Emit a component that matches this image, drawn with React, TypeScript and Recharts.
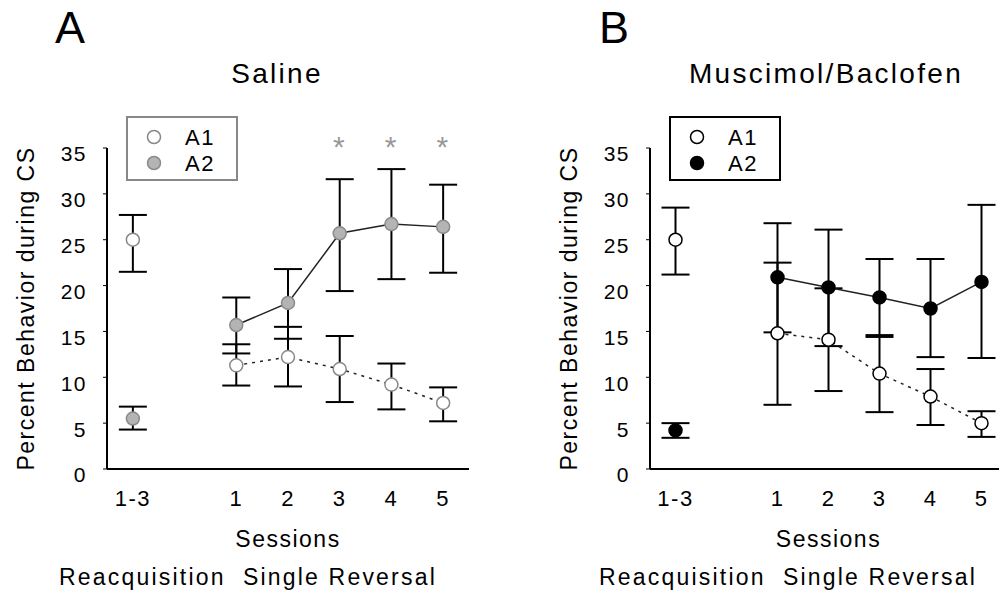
import { ErrorBar, Legend, Line, LineChart, ReferenceDot, XAxis, YAxis } from 'recharts'

// x slots: reacquisition block, an empty gap, then the five reversal sessions
const CATEGORIES = ['1-3', '', '1', '2', '3', '4', '5']
const Y_TICKS = [0, 5, 10, 15, 20, 25, 30, 35]

const salineA1 = [25.0, null, 11.3, 12.2, 10.9, 9.2, 7.2]
const salineA1Low = [21.5, null, 9.1, 9.0, 7.3, 6.5, 5.2]
const salineA1High = [27.7, null, 13.6, 15.5, 14.5, 11.5, 8.9]
const salineA2 = [5.5, null, 15.7, 18.1, 25.7, 26.7, 26.4]
const salineA2Low = [4.3, null, 12.6, 14.2, 19.4, 20.7, 21.4]
const salineA2High = [6.8, null, 18.7, 21.8, 31.6, 32.7, 31.0]
const salineStars = ['3', '4', '5']

const muscA1 = [25.0, null, 14.8, 14.1, 10.4, 7.9, 5.0]
const muscA1Low = [21.2, null, 7.0, 8.5, 6.2, 4.8, 3.5]
const muscA1High = [28.5, null, 22.5, 19.7, 14.6, 10.9, 6.3]
const muscA2 = [4.2, null, 20.9, 19.8, 18.7, 17.5, 20.4]
const muscA2Low = [3.4, null, 14.9, 13.4, 14.4, 12.2, 12.1]
const muscA2High = [5.0, null, 26.8, 26.1, 22.9, 22.9, 28.8]

const STAR_Y = 35.2
const FONT = '"Liberation Sans", Arial, sans-serif'

const err = (m: number | null, lo: number | null, hi: number | null) =>
  m == null || lo == null || hi == null ? null : [m - lo, hi - m]

const buildRows = (
  a1: (number | null)[], a1Lo: (number | null)[], a1Hi: (number | null)[],
  a2: (number | null)[], a2Lo: (number | null)[], a2Hi: (number | null)[],
) =>
  CATEGORIES.map((_, i) => ({
    x: i,
    a1: a1[i],
    a1Err: err(a1[i], a1Lo[i], a1Hi[i]),
    a2: a2[i],
    a2Err: err(a2[i], a2Lo[i], a2Hi[i]),
  }))

const salineRows = buildRows(salineA1, salineA1Low, salineA1High, salineA2, salineA2Low, salineA2High)
const muscRows = buildRows(muscA1, muscA1Low, muscA1High, muscA2, muscA2Low, muscA2High)

const xTicks = CATEGORIES.map((c, i) => (c ? i : -1)).filter((i) => i >= 0)

type Marker = { fill: string; stroke: string }
type PanelProps = {
  rows: ReturnType<typeof buildRows>
  left: number
  width: number
  marginRight: number
  a1: Marker
  a2: Marker
  legendBorder: string
  stars: string[]
}

const LegendBox = ({ a1, a2, border }: { a1: Marker; a2: Marker; border: string }) => (
  <div
    style={{
      width: 112,
      height: 65,
      boxSizing: 'border-box',
      border: `2px solid ${border}`,
      background: '#fff',
    }}
  >
    <svg width={108} height={61}>
      {[
        { m: a1, label: 'A1', y: 19 },
        { m: a2, label: 'A2', y: 45 },
      ].map((r) => (
        <g key={r.label}>
          <circle cx={26} cy={r.y} r={6.5} fill={r.m.fill} stroke={r.m.stroke} strokeWidth={1.5} />
          <text x={57} y={r.y + 8} fontSize={22} fill="#000" style={{ letterSpacing: 1.5 }}>
            {r.label}
          </text>
        </g>
      ))}
    </svg>
  </div>
)

const Panel = ({ rows, left, width, marginRight, a1, a2, legendBorder, stars }: PanelProps) => (
  <div style={{ position: 'absolute', left, top: 0 }}>
    <LineChart
      width={width}
      height={609}
      data={rows}
      margin={{ top: 148, right: marginRight, bottom: 0, left: 0 }}
    >
      <XAxis
        type="number"
        dataKey="x"
        domain={[-0.5, 6.5]}
        ticks={xTicks}
        interval={0}
        tickFormatter={(i: number) => CATEGORIES[i]}
        tick={{ fontSize: 22, fill: '#000' }}
        tickLine={false}
        tickSize={0}
        tickMargin={21}
        axisLine={{ stroke: '#000', strokeWidth: 2 }}
        height={140}
        label={{ value: 'Sessions', position: 'insideTop', offset: 62, fontSize: 23, fill: '#000' }}
      />
      <YAxis
        domain={[0, 35]}
        ticks={Y_TICKS}
        interval={0}
        width={107}
        tick={{ fontSize: 21, fill: '#000', dy: 6 }}
        tickSize={4}
        tickMargin={16}
        tickLine={{ stroke: '#000' }}
        axisLine={{ stroke: '#000', strokeWidth: 2 }}
        label={{
          value: 'Percent Behavior during CS',
          angle: -90,
          position: 'insideLeft',
          offset: 26,
          fontSize: 23,
          fill: '#000',
          style: { textAnchor: 'middle' },
        }}
      />
      {/* error bars first so every marker sits on top */}
      <Line dataKey="a2" stroke="none" dot={false} activeDot={false} legendType="none" isAnimationActive={false}>
        <ErrorBar dataKey="a2Err" width={14} stroke="#000" strokeWidth={2} />
      </Line>
      <Line dataKey="a1" stroke="none" dot={false} activeDot={false} legendType="none" isAnimationActive={false}>
        <ErrorBar dataKey="a1Err" width={14} stroke="#000" strokeWidth={2} />
      </Line>
      <Line
        dataKey="a2"
        name="A2"
        stroke="#222"
        strokeWidth={1.5}
        dot={{ r: 6.5, fill: a2.fill, stroke: a2.stroke, strokeWidth: 1.5 }}
        activeDot={false}
        isAnimationActive={false}
      />
      <Line
        dataKey="a1"
        name="A1"
        stroke="#222"
        strokeWidth={1.5}
        strokeDasharray="3 5"
        dot={{ r: 6.5, fill: a1.fill, stroke: a1.stroke, strokeWidth: 1.5, strokeDasharray: '' }}
        activeDot={false}
        isAnimationActive={false}
      />
      {stars.map((s) => (
        <ReferenceDot
          key={s}
          x={CATEGORIES.indexOf(s)}
          y={STAR_Y}
          r={0}
          ifOverflow="visible"
          label={{ value: '*', position: 'center', fontSize: 30, fill: '#999' }}
        />
      ))}
      <Legend
        layout="vertical"
        align="center"
        verticalAlign="middle"
        wrapperStyle={{ left: 126, top: 116, width: 112 }}
        content={() => <LegendBox a1={a1} a2={a2} border={legendBorder} />}
      />
    </LineChart>
  </div>
)

const textStyle = (left: number, top: number, width: number, fontSize: number, spacing: number) => ({
  position: 'absolute' as const,
  left,
  top,
  width,
  fontSize,
  lineHeight: `${fontSize}px`,
  letterSpacing: spacing,
  textAlign: 'center' as const,
  whiteSpace: 'pre' as const,
})

export default function App() {
  return (
    <div
      style={{
        position: 'absolute',
        left: 0,
        top: 0,
        width: 999,
        height: 609,
        overflow: 'hidden',
        background: '#fff',
        fontFamily: FONT,
        color: '#000',
        letterSpacing: 1.5,
      }}
    >
      <div style={{ position: 'absolute', left: 55, top: 5, fontSize: 45, lineHeight: '45px' }}>A</div>
      <div style={{ position: 'absolute', left: 599, top: 5, fontSize: 45, lineHeight: '45px' }}>B</div>
      <div style={textStyle(127, 60, 300, 28, 2.3)}>Saline</div>
      <div style={textStyle(676, 60, 300, 28, 2.3)}>Muscimol/Baclofen</div>
      <Panel
        rows={salineRows}
        left={0}
        width={490}
        marginRight={21}
        a1={{ fill: '#fff', stroke: '#888' }}
        a2={{ fill: '#b4b4b4', stroke: '#8a8a8a' }}
        legendBorder="#888"
        stars={salineStars}
      />
      <Panel
        rows={muscRows}
        left={543}
        width={464}
        marginRight={0}
        a1={{ fill: '#fff', stroke: '#000' }}
        a2={{ fill: '#000', stroke: '#000' }}
        legendBorder="#000"
        stars={[]}
      />
      <div style={textStyle(48, 566, 400, 23, 2.2)}>Reacquisition  Single Reversal</div>
      <div style={textStyle(588, 566, 400, 23, 2.2)}>Reacquisition  Single Reversal</div>
    </div>
  )
}
